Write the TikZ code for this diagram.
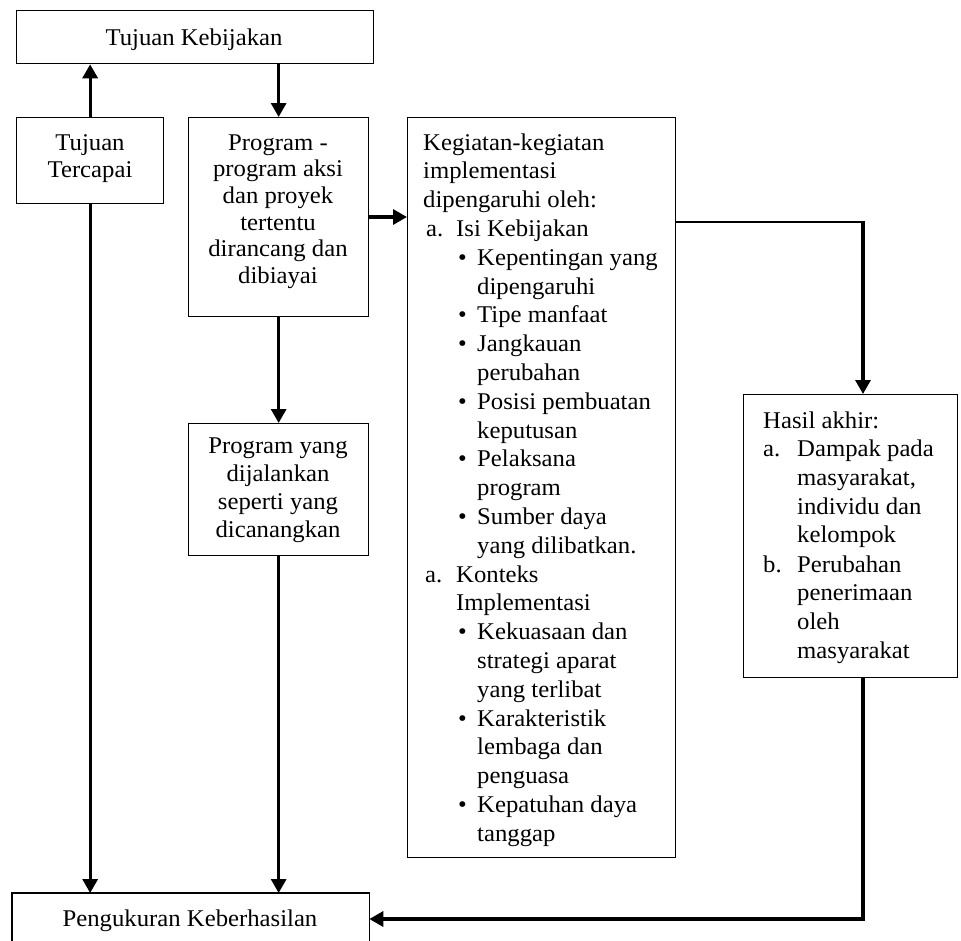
\documentclass[tikz,border=0pt]{standalone}
\usepackage{fontspec}
\setmainfont[FakeStretch=1.03]{Liberation Serif}
\usetikzlibrary{arrows.meta}
\begin{document}
\begin{tikzpicture}[x=1pt,y=-1pt,
  box/.style={draw=black, line width=1.3pt, fill=white, rectangle, inner sep=0pt, anchor=north west},
  txt/.style={anchor=base, inner sep=0pt, font=\fontsize{24}{28}\selectfont},
  ltxt/.style={anchor=base west, inner sep=0pt, font=\fontsize{24}{28}\selectfont},
  conn/.style={line width=3.2pt, -{Triangle[length=14pt,width=15pt]}},
  thinline/.style={line width=1.6pt}]
\useasboundingbox (0,0) rectangle (961,940);

% boxes
\node[box, minimum width=357pt, minimum height=53pt] (keb) at (16,10) {};
\node[box, minimum width=147pt, minimum height=86pt] (ter) at (16,117) {};
\node[box, minimum width=180pt, minimum height=199pt] (prog) at (188,117) {};
\node[box, minimum width=180pt, minimum height=132pt] (jal) at (188,423) {};
\node[box, minimum width=268pt, minimum height=740pt] (keg) at (407,117) {};
\node[box, minimum width=214pt, minimum height=283pt] (has) at (743,394) {};
\node[box, draw=none, minimum width=356pt, minimum height=47pt] (ukur) at (12,893) {};
\draw[line width=1.3pt] (ukur.south west) -- (ukur.north west) -- (ukur.north east) -- (ukur.south east);

% texts
\node[txt] (tk) at (194,45) {Tujuan Kebijakan};
\node[txt] (tt1) at (90,150) {Tujuan};
\node[txt] (tt2) at (90,177) {Tercapai};
\foreach \i/\t in {0/Program -, 1/program aksi, 2/dan proyek, 3/tertentu, 4/dirancang dan, 5/dibiayai}
  \node[txt] (p\i) at (278,150+26.7*\i) {\t};
\foreach \i/\t in {0/Program yang, 1/dijalankan, 2/seperti yang, 3/dicanangkan}
  \node[txt] (j\i) at (278,453+28*\i) {\t};
\node[txt] (uk) at (190,926) {Pengukuran Keberhasilan};

\foreach \i/\x/\t in {0/423/Kegiatan-kegiatan, 1/423/implementasi, 2/423/dipengaruhi oleh:,
  3/456/Isi Kebijakan, 4/477/Kepentingan yang, 5/477/dipengaruhi, 6/477/Tipe manfaat,
  7/477/Jangkauan, 8/477/perubahan, 9/477/Posisi pembuatan, 10/477/keputusan,
  11/477/Pelaksana, 12/477/program, 13/477/Sumber daya, 14/477/yang dilibatkan.,
  15/456/Konteks, 16/456/Implementasi, 17/477/Kekuasaan dan, 18/477/strategi aparat,
  19/477/yang terlibat, 20/477/Karakteristik, 21/477/lembaga dan, 22/477/penguasa,
  23/477/Kepatuhan daya, 24/477/tanggap}
  \node[ltxt] (k\i) at (\x,150+28.8*\i) {\t};
\node[ltxt] (ka1) at (426,150+28.8*3) {a.};
\node[ltxt] (ka2) at (425,150+28.8*15) {a.};
\foreach \i in {4,6,7,9,11,13,17,20,23}
  \node[ltxt] (kb\i) at (458,150+28.8*\i) {\textbullet};

\node[ltxt] (h0) at (763,428) {Hasil akhir:};
\node[ltxt] (ha) at (763,428+28.7) {a.};
\foreach \i/\t in {1/Dampak pada, 2/{masyarakat,}, 3/individu dan, 4/kelompok}
  \node[ltxt] (h\i) at (797,428+28.7*\i) {\t};
\node[ltxt] (hb) at (763,572) {b.};
\foreach \i/\t in {0/Perubahan, 1/penerimaan, 2/oleh, 3/masyarakat}
  \node[ltxt] (hh\i) at (797,572+28.7*\i) {\t};

% connectors
\draw[conn] (ter.north) -- (keb.south -| ter.north);
\draw[conn] (keb.south -| prog.north) -- (prog.north);
\draw[conn] (prog.south) -- (jal.north);
\draw[conn] (jal.south) -- (ukur.north -| jal.south);
\draw[conn] (ter.south) -- (ukur.north -| ter.south);
\draw[conn] ([yshift=-100pt]prog.north east) -- ([yshift=-100pt]keg.north west);
\coordinate (kh) at (863,222);
\draw[thinline] ([yshift=-105pt]keg.north east) -- (kh);
\draw[conn] ([yshift=0.8pt]kh) -- (kh |- has.north);
\coordinate (hu) at (863,919);
\draw[conn] (has.south -| hu) -- (hu) -- (ukur.east |- hu);
\end{tikzpicture}
\end{document}
